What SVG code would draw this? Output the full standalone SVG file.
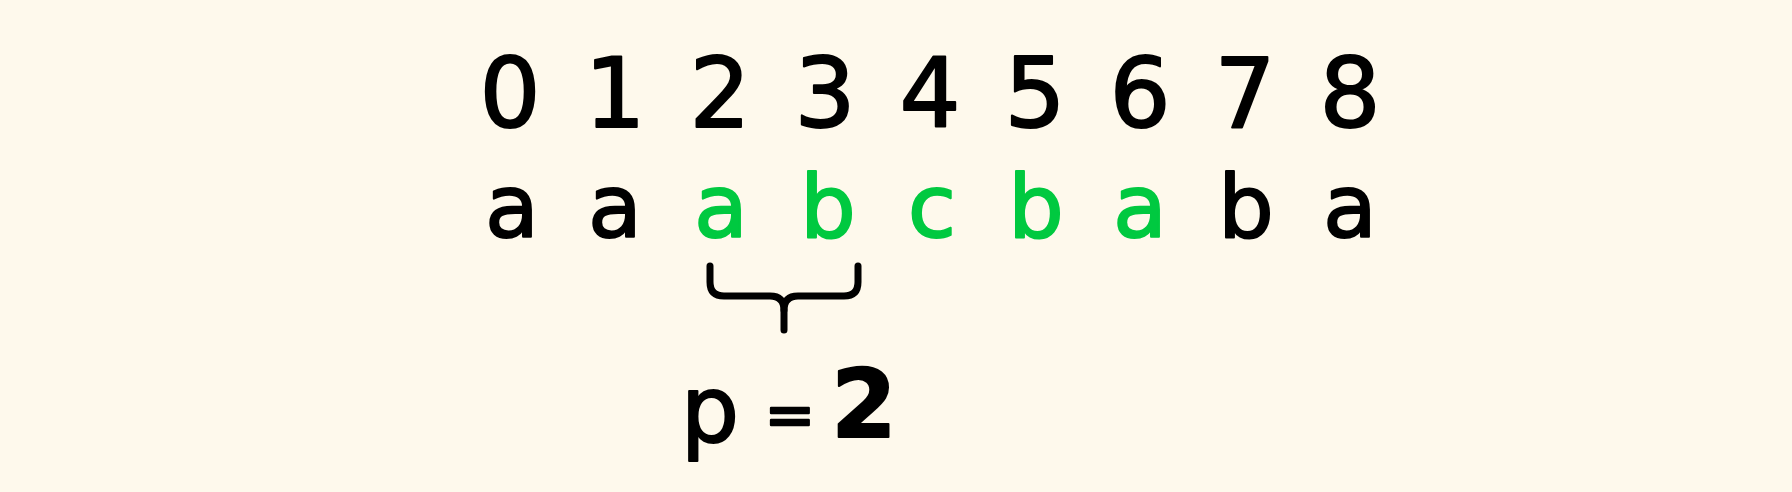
<svg xmlns="http://www.w3.org/2000/svg" width="1792" height="492" viewBox="0 0 1792 492">
<style>
.t{font-family:"DejaVu Sans","Noto Sans",sans-serif;text-anchor:middle;stroke-linejoin:round;stroke-linecap:round}
.d{font-size:96px;fill:#000;stroke:#000;stroke-width:2}
.l{font-size:88px;stroke-width:2}
.k{fill:#000;stroke:#000}
.g{fill:#00C940;stroke:#00C940}
.brace{fill:none;stroke:#000;stroke-width:7;stroke-linecap:round;stroke-linejoin:round}
</style>
<rect width="1792" height="492" fill="#FEF9EC"/>
<g id="indices">
<text class="t d" x="510" y="127">0</text>
<text class="t d" x="615" y="127">1</text>
<text class="t d" x="720" y="127">2</text>
<text class="t d" x="825" y="127">3</text>
<text class="t d" x="930" y="127">4</text>
<text class="t d" x="1035" y="127">5</text>
<text class="t d" x="1140" y="127">6</text>
<text class="t d" x="1245" y="127">7</text>
<text class="t d" x="1350" y="127">8</text>
</g>
<g id="letters">
<text class="t l k" x="512" y="237">a</text>
<text class="t l k" x="615" y="237">a</text>
<text class="t l g" x="721" y="237">a</text>
<text class="t l g" x="828" y="237">b</text>
<text class="t l g" x="932" y="237">c</text>
<text class="t l g" x="1036" y="237">b</text>
<text class="t l g" x="1140" y="237">a</text>
<text class="t l k" x="1246" y="237">b</text>
<text class="t l k" x="1350" y="237">a</text>
</g>
<g id="connectors">
<path class="brace" d="M710,266 V282 Q710,296 724,296 H770 Q784,296 784,310 V330"/>
<path class="brace" d="M858,266 V282 Q858,296 844,296 H798 Q784,296 784,310"/>
</g>
<g id="label">
<text class="t k" x="710" y="442" font-size="92" stroke-width="2">p</text>
<text class="t k" x="790" y="435" font-size="60" stroke-width="2.5">=</text>
<text class="t k" x="864" y="437" font-size="94" font-weight="bold" stroke-width="2">2</text>
</g>
</svg>
